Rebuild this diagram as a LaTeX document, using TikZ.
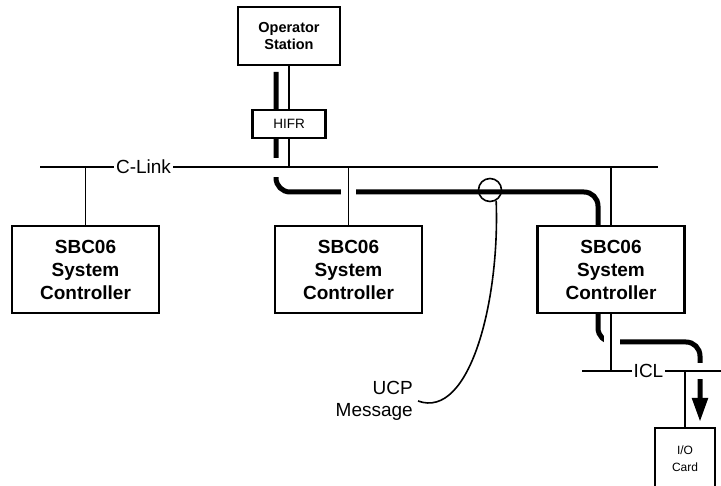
\documentclass[tikz,border=0pt]{standalone}
\usepackage{fontspec}
\setmainfont{Liberation Sans}
\usetikzlibrary{arrows.meta,calc}
\pgfdeclarelayer{background}
\pgfsetlayers{background,main}
\begin{document}
\begin{tikzpicture}[x=1pt,y=-1pt,
  box/.style={draw, line width=2.4pt, fill=white, inner sep=0pt, align=center},
  ctrl/.style={box, minimum width=147pt, minimum height=87pt, font=\bfseries\fontsize{19}{23}\selectfont},
  thinline/.style={line width=1.6pt},
  bus/.style={line width=2.8pt},
  msg/.style={line width=5pt, rounded corners=14pt},
  gapbox/.style={fill=white},
  lbl/.style={inner sep=0pt, inner xsep=2pt, font=\fontsize{19}{22}\selectfont}]
\useasboundingbox (0,0) rectangle (721,486);
\clip (0,0) rectangle (721,486);

% bus coordinates
\coordinate (clL) at (40,167);
\coordinate (clR) at (658,167);
\coordinate (iclL) at (582,371);
\coordinate (iclR) at (721,371);

% nodes
\node[box, minimum width=102pt, minimum height=58pt, font=\bfseries\fontsize{14.5}{17}\selectfont] (op) at (289,36) {Operator\\Station};
\node[box, minimum width=73pt, minimum height=28pt, font=\fontsize{13.5}{16}\selectfont] (hifr) at (289,124) {HIFR};
\node[ctrl] (sbc1) at (85.5,269.5) {SBC06\\System\\Controller};
\node[ctrl] (sbc2) at (348.5,269.5) {SBC06\\System\\Controller};
\node[ctrl] (sbc3) at (611,269.5) {SBC06\\System\\Controller};
\node[box, line width=1.8pt, minimum width=60pt, minimum height=62pt, font=\fontsize{12}{17}\selectfont] (io) at (685,459) {I/O\\Card};
\node[lbl] (clink) at (143.5,167) {C-Link};
\node[lbl] (icl) at (648.5,371) {ICL};
\node[lbl, align=right, anchor=east, inner xsep=5pt] (ucp) at (418,401) {UCP\\Message};
\node[circle, draw, thinline, minimum size=23pt, inner sep=0pt] (ring) at (490,190) {};

% message route (behind)
\coordinate (m0) at (276,72);
\coordinate (m1) at (276,192);
\coordinate (m2) at (598,192);
\coordinate (m3) at (598,225);
\coordinate (n0) at (598,314);
\coordinate (n1) at (598,342);
\coordinate (n2) at (700,342);
\coordinate (n3) at (700,422);
\begin{pgfonlayer}{background}
  \fill[white] (0,0) rectangle (721,486);
  \draw[msg] (m0) -- (m1) -- (m2) -- (m3);
  \draw[msg, -{Triangle[width=15pt,length=24pt]}] (n0) -- (n1) -- (n2) -- (n3);
  % gaps where the route passes under thin lines
  \fill[gapbox] (267,158) rectangle (285,177);
  \fill[gapbox] (341,184) rectangle (356,200);
  \fill[gapbox] (604,333) rectangle (620,351);
  \fill[gapbox] (690,363) rectangle (710,379);
\end{pgfonlayer}

% buses
\draw[bus] (clL) -- (clink.west);
\draw[bus] (clink.east) -- (clR);
\draw[bus] (iclL) -- (icl.west);
\draw[bus] (icl.east) -- (iclR);

% risers
\draw[thinline] (op.south) -- (hifr.north);
\draw[thinline] (hifr.south) -- (hifr.south |- clL);
\draw[thinline] (sbc1.north) -- (sbc1.north |- clL);
\draw[thinline] (sbc2.north) -- (sbc2.north |- clL);
\draw[thinline] (sbc3.north) -- (sbc3.north |- clL);
\draw[thinline] (sbc3.south) -- (sbc3.south |- iclL);
\draw[thinline] (io.north) -- (io.north |- iclL);

% leader
\draw[thinline] (ring.-60) .. controls (500,300) and (470,420) .. (ucp.east);
\end{tikzpicture}
\end{document}
